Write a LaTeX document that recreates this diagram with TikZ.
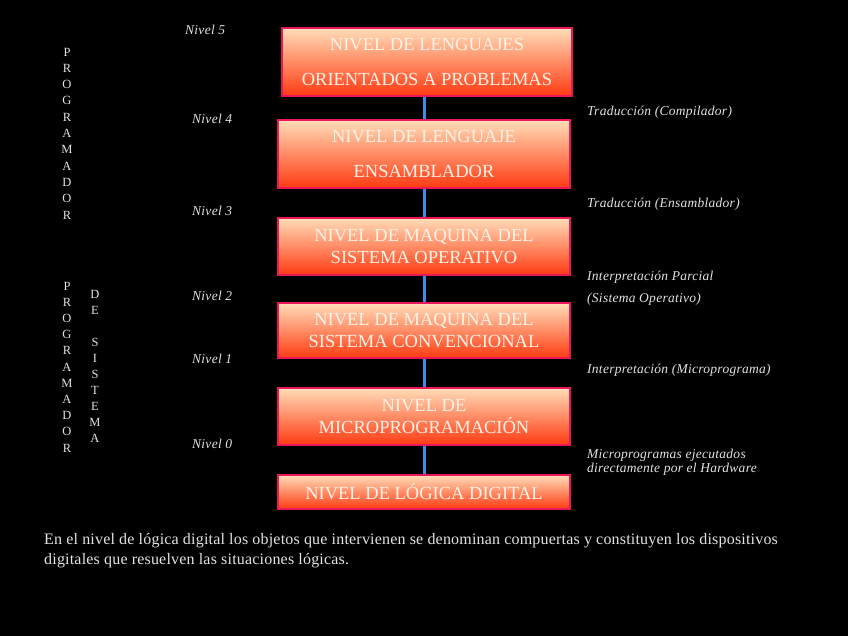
\documentclass[tikz,border=0pt]{standalone}
\usepackage{fontspec}
\setmainfont{Liberation Serif}
\newfontfamily\spacedit[LetterSpace=2]{Liberation Serif}
\newfontfamily\spacedrm[LetterSpace=1.2]{Liberation Serif}
\usetikzlibrary{positioning}
\definecolor{peach}{HTML}{FFDDB8}
\definecolor{midorg}{HTML}{FFA07A}
\definecolor{redorg}{HTML}{FF3A12}
\definecolor{rimred}{HTML}{E8185A}
\definecolor{linkblue}{HTML}{3A8EE6}
\definecolor{boxtext}{HTML}{FFF2E6}
\definecolor{labgray}{HTML}{E2E2E2}
\tikzset{
  lvlbox/.style={rectangle, draw=rimred, line width=2pt, top color=peach, middle color=midorg,
                 bottom color=redorg, text=boxtext, align=center, inner sep=0pt,
                 font=\fontsize{18.5}{22}\selectfont},
  link/.style={draw=linkblue, line width=3pt},
  nivlab/.style={anchor=west, text=labgray, inner sep=0pt,
                 font=\spacedit\fontsize{13.5}{15}\selectfont\itshape},
  notelab/.style={anchor=west, text=labgray, inner sep=0pt, align=left,
                  font=\spacedit\fontsize{13.5}{15}\selectfont\itshape},
  vlet/.style={text=labgray, inner sep=0pt, font=\fontsize{12.5}{14}\selectfont},
}
\begin{document}
\begin{tikzpicture}[x=1pt,y=1pt]
\fill[black] (0,0) rectangle (848,636);
\useasboundingbox (0,0) rectangle (848,636);
% level boxes
\node[lvlbox, minimum width=290, minimum height=68] (b5) at (427,574)
  {NIVEL DE LENGUAJES\\[13pt]ORIENTADOS A PROBLEMAS};
\node[lvlbox, minimum width=292, minimum height=68] (b4) at (424,482)
  {NIVEL DE LENGUAJE\\[13pt]ENSAMBLADOR};
\node[lvlbox, minimum width=292, minimum height=57] (b3) at (424,389.5)
  {NIVEL DE MAQUINA DEL\\SISTEMA OPERATIVO};
\node[lvlbox, minimum width=292, minimum height=55] (b2) at (424,305.5)
  {NIVEL DE MAQUINA DEL\\SISTEMA CONVENCIONAL};
\node[lvlbox, minimum width=292, minimum height=57] (b1) at (424,219.5)
  {NIVEL DE\\MICROPROGRAMACIÓN};
\node[lvlbox, minimum width=292, minimum height=34] (b0) at (424,144)
  {NIVEL DE LÓGICA DIGITAL};
% connectors
\draw[link] (b4.north |- b5.south) -- (b4.north);
\draw[link] (b4.south) -- (b3.north);
\draw[link] (b3.south) -- (b2.north);
\draw[link] (b2.south) -- (b1.north);
\draw[link] (b1.south) -- (b0.north);
% level names
\node[nivlab] (n5) at (185,606) {Nivel 5};
\node[nivlab] (n4) at (192,517) {Nivel 4};
\node[nivlab] (n3) at (192,425) {Nivel 3};
\node[nivlab] (n2) at (192,340) {Nivel 2};
\node[nivlab] (n1) at (192,277) {Nivel 1};
\node[nivlab] (n0) at (192,192) {Nivel 0};
% transitions
\node[notelab] (t54) at (587,524) {Traducción (Compilador)};
\node[notelab] (t43) at (587,432) {Traducción (Ensamblador)};
\node[notelab] (t32a) at (587,359) {Interpretación Parcial};
\node[notelab] (t32b) at (587,337) {(Sistema Operativo)};
\node[notelab] (t21) at (587,266) {Interpretación (Microprograma)};
\node[notelab] (t10) at (587,174) {Microprogramas ejecutados\\[-1pt]directamente por el Hardware};
% vertical words
\foreach \c [count=\i] in {P,R,O,G,R,A,M,A,D,O,R}{
  \node[vlet] (pa\i) at (67,{584-(\i-1)*16.3}) {\c};
  \node[vlet] (pb\i) at (67,{350-(\i-1)*16.2}) {\c};
}
\foreach \c [count=\i] in {D,E,{},S,I,S,T,E,M,A}{
  \node[vlet] (ds\i) at (95,{342-(\i-1)*16}) {\c};
}
% note
\node[anchor=north west, text=labgray, align=left, inner sep=0pt,
      font=\spacedrm\fontsize{16}{20}\selectfont] (note) at (44,103)
  {En el nivel de lógica digital los objetos que intervienen se denominan compuertas y constituyen los dispositivos\\
   digitales que resuelven las situaciones lógicas.};
\end{tikzpicture}
\end{document}
